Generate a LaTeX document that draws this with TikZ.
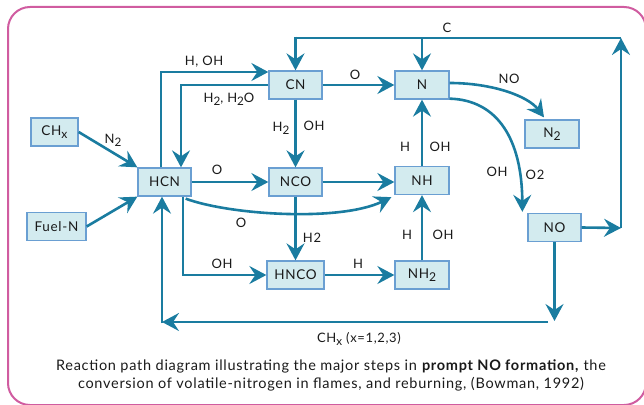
\documentclass[tikz,border=0pt]{standalone}
\usepackage{fontspec}
\usepackage{graphicx}
\setmainfont{Lato}[LetterSpace=5]
\usetikzlibrary{arrows.meta,calc}
\definecolor{framepink}{HTML}{D05CA0}
\definecolor{flow}{HTML}{1A7CA0}
\definecolor{boxfill}{HTML}{D3EBEF}
\definecolor{boxedge}{HTML}{6A9FD2}
\definecolor{ink}{HTML}{1A1A1A}
% lowered index, nearly full size
\newcommand{\lowidx}[1]{\raisebox{-0.45ex}{\scalebox{0.9}{#1}}}
\tikzset{
  species/.style={draw=boxedge, fill=boxfill, line width=1.3pt, inner sep=0pt,
    minimum height=28pt, text=ink, font=\fontsize{13.5}{13.5}\selectfont},
  flowline/.style={draw=flow, line width=2.6pt},
  arr/.style={flowline, -{Stealth[length=17pt,width=18pt,inset=6pt]}},
  lbl/.style={text=ink, inner sep=0pt, font=\fontsize{13}{13}\selectfont},
  caption/.style={text=ink, inner sep=0pt, font=\fontsize{14.5}{14.5}\selectfont},
}
\begin{document}
\begin{tikzpicture}[x=1pt,y=-1pt]
\useasboundingbox (0,0) rectangle (644,404);
% outer frame
\draw[framepink, line width=2pt, rounded corners=22pt] (8,7) rectangle (646,405);

% species boxes
\node[species, minimum width=47pt] (chx)   at (54.5,132) {CH\lowidx{x}};
\node[species, minimum width=59pt] (fueln) at (56.5,226.5) {Fuel-N};
\node[species, minimum width=53pt] (hcn)   at (164.5,182) {HCN};
\node[species, minimum width=53pt] (cn)    at (295.5,85) {CN};
\node[species, minimum width=53pt] (nco)   at (295.5,182) {NCO};
\node[species, minimum width=57pt] (hnco)  at (295.5,275) {HNCO};
\node[species, minimum width=54pt] (n)     at (422,85) {N};
\node[species, minimum width=54pt] (nh)    at (422,180.5) {NH};
\node[species, minimum width=54pt] (nhtwo) at (422,275) {NH\lowidx{2}};
\node[species, minimum width=54pt] (ntwo)  at (552,134) {N\lowidx{2}};
\node[species, minimum width=53pt] (no)    at (554.5,227.5) {NO};

% corner points of the return loops
\coordinate (topR) at (621,38);
\coordinate (noR)  at (621,228);
\coordinate (botR) at (548,322);
\coordinate (botL) at (162,322);
\coordinate (noD)  at (554.5,321);

% feeds into HCN
\draw[arr] (chx.east) -- (hcn.north west);
\draw[arr] (fueln.east) -- (hcn.south west);

% HCN <-> CN
\draw[arr] ($(hcn.north)+(-3.5,0)$) |- ($(cn.west)+(0,-13)$);
\draw[arr] (cn.west) -| ($(hcn.north)+(16.5,0)$);

% main horizontal steps
\draw[arr] (hcn.east) -- (nco.west);
\draw[arr] (cn.east) -- (n.west);
\draw[arr] (nco.east) -- (nco.east -| nh.west);
\draw[arr] (hnco.east) -- (nhtwo.west);

% vertical steps
\draw[arr] (cn.south) -- (nco.north);
\draw[arr] (nco.south) -- (hnco.north);
\draw[arr] (nh.north) -- (n.south);
\draw[arr] (nhtwo.north) -- (nh.south);
\draw[arr] ($(hcn.south)+(18.5,0)$) |- (hnco.west);

% curved steps
\draw[arr] ($(hcn.south east)+(-6,2)$) .. controls (230,215) and (340,222) .. ($(nh.south west)+(-3,2)$);
\draw[arr] ($(n.east)+(0,-2)$) .. controls (492,83) and (528,96) .. ($(ntwo.north)+(-8,-2)$);
\draw[arr] ($(n.south east)+(0,-1)$) .. controls (498,100) and (522,140) .. ($(no.north west)+(-5,-1)$);

% carbon loop over the top
\draw[arr] (no.east) -- (noR);
\draw[arr] (noR) -- (topR);
\draw[flowline] (topR) -- (cn.north |- topR);
\draw[arr] ($(cn.north |- topR)+(0,-1.3)$) -- (cn.north);
\draw[arr] (n.north |- topR) -- (n.north);

% reburning loop along the bottom
\draw[arr] (no.south) -- (noD);
\draw[arr] (botR) -- (botL);
\draw[arr] ($(botL)+(0,1.3)$) -- (hcn.south -| botL);

% step labels
\node[lbl] at (113,140) {N\lowidx{2}};
\node[lbl] at (204,62) {H, OH};
\node[lbl] at (229,99) {H\lowidx{2}, H\lowidx{2}O};
\node[lbl] at (281,128) {H\lowidx{2}};
\node[lbl] at (314,126) {OH};
\node[lbl] at (217,170) {O};
\node[lbl] at (355,75) {O};
\node[lbl] at (447,28) {C};
\node[lbl] at (509,79) {NO};
\node[lbl] at (405,147) {H};
\node[lbl] at (440,147) {OH};
\node[lbl] at (497,172) {OH};
\node[lbl] at (535,175) {O2};
\node[lbl] at (241,223) {O};
\node[lbl] at (312,238) {H2};
\node[lbl] at (222,264) {OH};
\node[lbl] at (358,264) {H};
\node[lbl] at (407,235) {H};
\node[lbl] at (443,235) {OH};
\node[lbl] at (359,339) {CH\lowidx{x} (x=1,2,3)};

% caption
\node[caption] (cap1) at (331,366)
  {Reaction path diagram illustrating the major steps in \textbf{prompt NO formation,} the};
\node[caption] (cap2) at (331,384)
  {conversion of volatile-nitrogen in flames, and reburning, (Bowman, 1992)};
\end{tikzpicture}
\end{document}
